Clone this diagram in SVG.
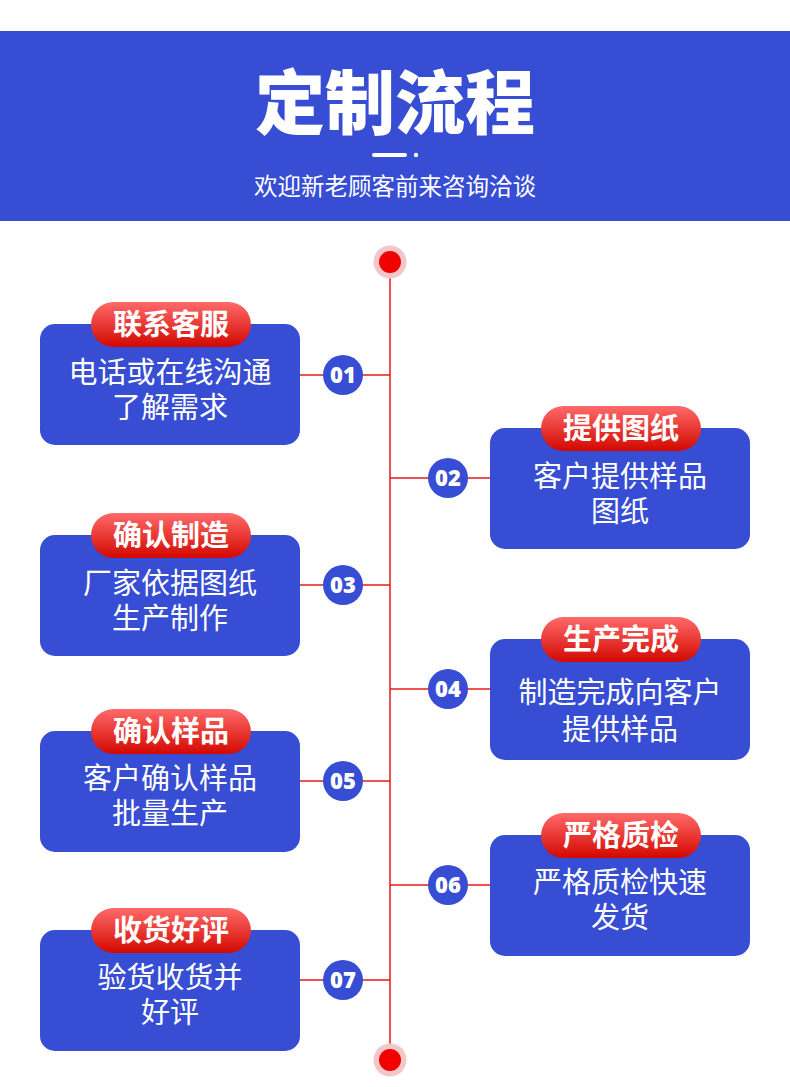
<svg xmlns="http://www.w3.org/2000/svg" width="790" height="1087" viewBox="0 0 790 1087">
<defs>
<linearGradient id="badgeGrad" x1="0" y1="0" x2="0" y2="1">
<stop offset="0" stop-color="#FF6A6A"/>
<stop offset="1" stop-color="#D20800"/>
</linearGradient>
<style>
.box{fill:#364DD4;}
.badge{fill:url(#badgeGrad);}
.btxt{font-family:"Liberation Sans","Noto Sans CJK SC",sans-serif;font-weight:700;font-size:29px;fill:#fff;text-anchor:middle;}
.body{font-family:"Liberation Sans","Noto Sans CJK SC",sans-serif;font-size:29px;fill:#fff;text-anchor:middle;}
.num{fill:#364DD4;}
.ntxt{font-family:"Open Sans","Noto Sans",sans-serif;font-weight:800;font-size:22px;fill:#fff;text-anchor:middle;}
.conn{stroke:#E8161B;stroke-width:1.5;fill:none;}
</style>
</defs>
<rect x="0" y="0" width="790" height="1087" fill="#fff"/>
<g id="header">
<rect x="0" y="31" width="790" height="190" fill="#364DD4"/>
<text x="395" y="129" font-family="Noto Sans CJK SC,Noto Sans,sans-serif" font-weight="900" font-size="70" fill="#fff" text-anchor="middle">定制流程</text>
<rect x="372" y="153" width="35" height="4" rx="2" fill="#fff"/>
<circle cx="416" cy="155" r="2.2" fill="#fff"/>
<text x="395" y="195" font-family="Noto Sans CJK SC,Noto Sans,sans-serif" font-size="23.5" fill="#fff" text-anchor="middle">欢迎新老顾客前来咨询洽谈</text>
</g>
<g id="connectors">
<line class="conn" x1="390" y1="262" x2="390" y2="1060"/>
<line class="conn" x1="300" y1="375" x2="390" y2="375"/>
<line class="conn" x1="390" y1="478" x2="490" y2="478"/>
<line class="conn" x1="300" y1="585" x2="390" y2="585"/>
<line class="conn" x1="390" y1="689" x2="490" y2="689"/>
<line class="conn" x1="300" y1="781" x2="390" y2="781"/>
<line class="conn" x1="390" y1="885" x2="490" y2="885"/>
<line class="conn" x1="300" y1="980" x2="390" y2="980"/>
</g>
<g id="start">
<circle cx="390" cy="262" r="16.5" fill="#F3C7C7"/>
<circle cx="390" cy="262" r="11" fill="#F00000"/>
</g>
<g id="end">
<circle cx="390" cy="1060" r="16.5" fill="#F3C7C7"/>
<circle cx="390" cy="1060" r="11" fill="#F00000"/>
</g>
<g id="step1">
<rect class="box" x="40" y="324" width="260" height="121" rx="15"/>
<rect class="badge" x="91" y="302" width="160" height="45" rx="22.5"/>
<text class="btxt" x="171" y="335">联系客服</text>
<text class="body" x="170" y="383"><tspan x="170">电话或在线沟通</tspan><tspan x="170" dy="35">了解需求</tspan></text>
<circle class="num" cx="343" cy="375" r="20"/>
<text class="ntxt" x="343" y="383">01</text>
</g>
<g id="step2">
<rect class="box" x="490" y="428" width="260" height="121" rx="15"/>
<rect class="badge" x="541" y="406" width="160" height="45" rx="22.5"/>
<text class="btxt" x="621" y="439">提供图纸</text>
<text class="body" x="620" y="487"><tspan x="620">客户提供样品</tspan><tspan x="620" dy="35">图纸</tspan></text>
<circle class="num" cx="448" cy="478" r="20"/>
<text class="ntxt" x="448" y="486">02</text>
</g>
<g id="step3">
<rect class="box" x="40" y="535" width="260" height="121" rx="15"/>
<rect class="badge" x="91" y="513" width="160" height="45" rx="22.5"/>
<text class="btxt" x="171" y="546">确认制造</text>
<text class="body" x="170" y="594"><tspan x="170">厂家依据图纸</tspan><tspan x="170" dy="35">生产制作</tspan></text>
<circle class="num" cx="343" cy="585" r="20"/>
<text class="ntxt" x="343" y="593">03</text>
</g>
<g id="step4">
<rect class="box" x="490" y="639" width="260" height="121" rx="15"/>
<rect class="badge" x="541" y="617" width="160" height="45" rx="22.5"/>
<text class="btxt" x="621" y="650">生产完成</text>
<text class="body" x="620" y="703"><tspan x="620">制造完成向客户</tspan><tspan x="620" dy="37">提供样品</tspan></text>
<circle class="num" cx="448" cy="689" r="20"/>
<text class="ntxt" x="448" y="697">04</text>
</g>
<g id="step5">
<rect class="box" x="40" y="731" width="260" height="121" rx="15"/>
<rect class="badge" x="91" y="709" width="160" height="45" rx="22.5"/>
<text class="btxt" x="171" y="742">确认样品</text>
<text class="body" x="170" y="789"><tspan x="170">客户确认样品</tspan><tspan x="170" dy="35">批量生产</tspan></text>
<circle class="num" cx="343" cy="781" r="20"/>
<text class="ntxt" x="343" y="789">05</text>
</g>
<g id="step6">
<rect class="box" x="490" y="835" width="260" height="121" rx="15"/>
<rect class="badge" x="541" y="813" width="160" height="45" rx="22.5"/>
<text class="btxt" x="621" y="846">严格质检</text>
<text class="body" x="620" y="893"><tspan x="620">严格质检快速</tspan><tspan x="620" dy="35">发货</tspan></text>
<circle class="num" cx="448" cy="885" r="20"/>
<text class="ntxt" x="448" y="893">06</text>
</g>
<g id="step7">
<rect class="box" x="40" y="930" width="260" height="121" rx="15"/>
<rect class="badge" x="91" y="908" width="160" height="45" rx="22.5"/>
<text class="btxt" x="171" y="941">收货好评</text>
<text class="body" x="170" y="988"><tspan x="170">验货收货并</tspan><tspan x="170" dy="35">好评</tspan></text>
<circle class="num" cx="343" cy="980" r="20"/>
<text class="ntxt" x="343" y="988">07</text>
</g>
</svg>
